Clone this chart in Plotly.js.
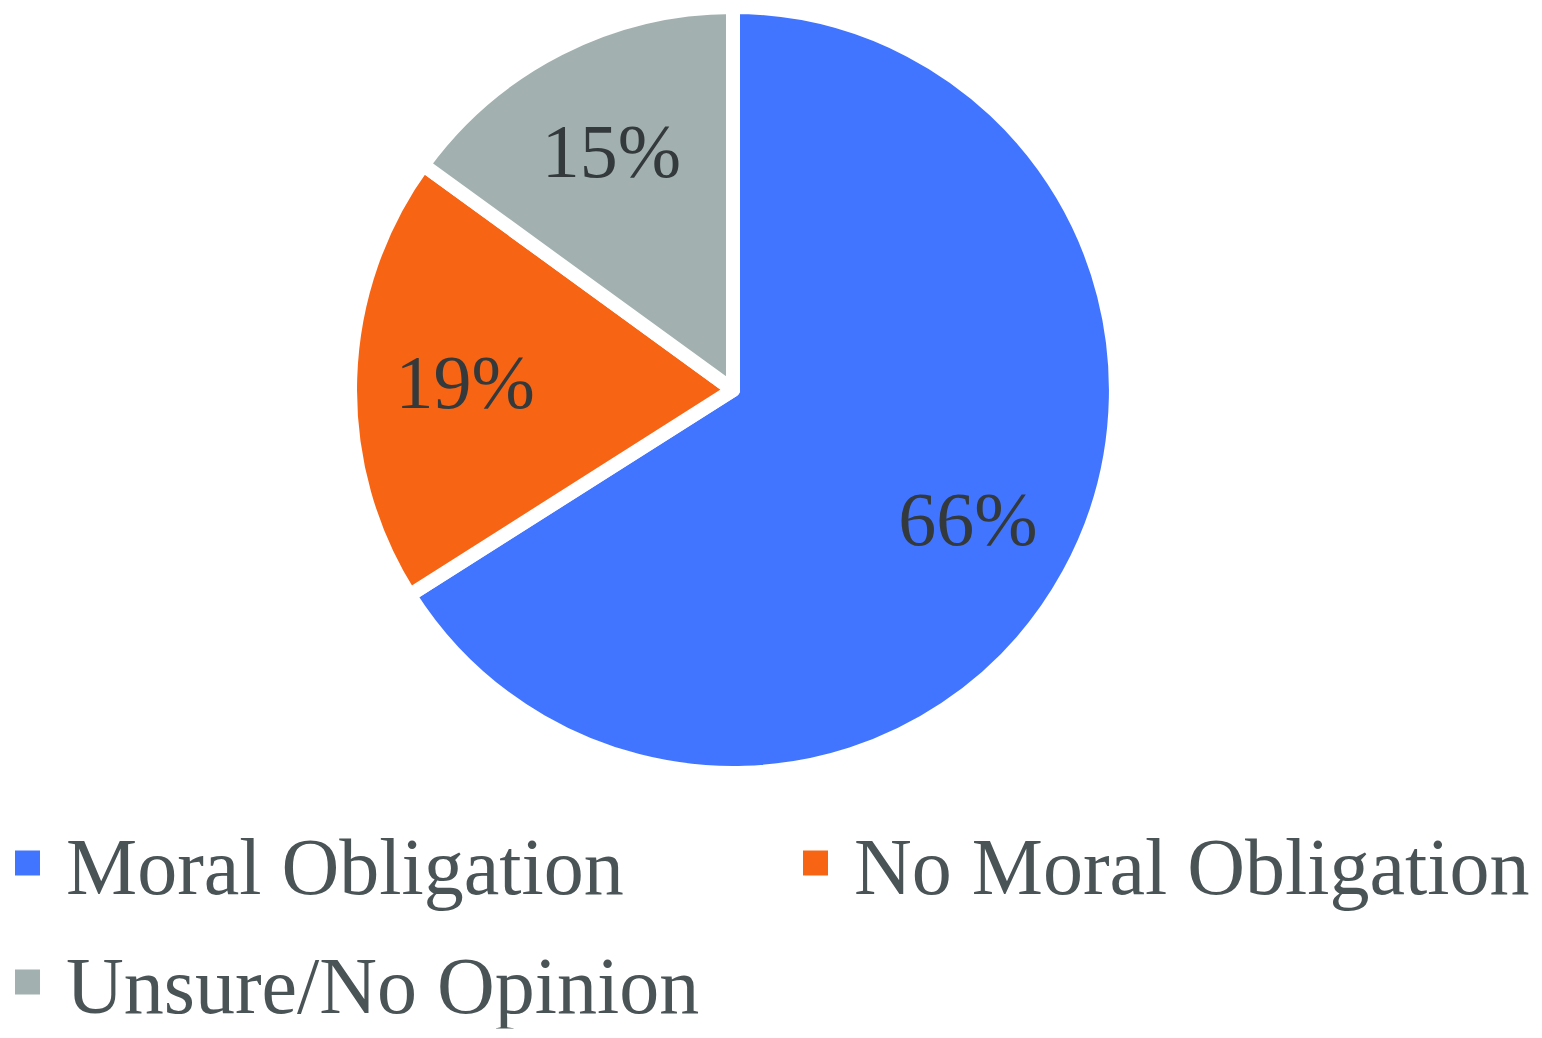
<!DOCTYPE html>
<html>
<head>
<meta charset="utf-8">
<script src="https://cdn.plot.ly/plotly-3.0.1.min.js"></script>
<style>html,body{margin:0;padding:0;background:#fff;}#chart{width:1542px;height:1038px;}</style>
</head>
<body>
<div id="chart"></div>
<script>
var labels = ["Moral Obligation", "No Moral Obligation", "Unsure/No Opinion"];
var values = [66, 19, 15];
var colors = ["#4275FF", "#F76414", "#A2B0AF"];

var trace = {
  type: "pie",
  labels: labels,
  values: values,
  sort: false,
  direction: "clockwise",
  rotation: 0,
  marker: {colors: colors, line: {color: "#FFFFFF", width: 14}},
  textinfo: "percent",
  textposition: "inside",
  insidetextorientation: "horizontal",
  textfont: {family: "Liberation Serif, Times New Roman, serif", size: 76, color: "#343A3C"},
  hoverinfo: "label+percent",
  domain: {x: [0.2270, 0.7237], y: [0.2553, 0.9933]}
};

var layout = {
  width: 1542,
  height: 1038,
  margin: {l: 0, r: 0, t: 0, b: 0, autoexpand: false},
  paper_bgcolor: "#FFFFFF",
  showlegend: true,
  legend: {
    orientation: "h",
    x: 0,
    xanchor: "left",
    y: 0.225,
    yanchor: "top",
    itemwidth: 56,
    entrywidth: 700,
    entrywidthmode: "pixels",
    font: {family: "Liberation Serif, Times New Roman, serif", size: 80, color: "#4A5456"}
  }
};

function shiftTransform(el, dx, dy) {
  var t = el.getAttribute("transform") || "";
  el.setAttribute("transform", "translate(" + dx + "," + dy + ") " + t);
}

Plotly.newPlot("chart", [trace], layout, {displayModeBar: false}).then(function (gd) {
  // legend symbols: larger squares like the reference
  gd.querySelectorAll("path.legendpie").forEach(function (p) {
    p.setAttribute("d", "M7,12.5H-18V-12.5H7Z");
    p.style.strokeWidth = "0px";
  });
  // legend entry spacing
  var items = gd.querySelectorAll("g.legend g.traces");
  if (items.length === 3) {
    shiftTransform(items[1], 17, 0);
    shiftTransform(items[2], 0, 12);
  }
  // slice labels at ~0.7 of the radius along each slice's mid-angle
  var cd = gd.calcdata[0];
  var cx = cd[0].cx, cy = cd[0].cy;
  var svgRect = gd.querySelector("svg.main-svg").getBoundingClientRect();
  var texts = gd.querySelectorAll("g.slice text.slicetext");
  texts.forEach(function (t, i) {
    var pt = cd[i];
    if (!pt || !pt.pxmid) return;
    var tx = cx + 0.70 * pt.pxmid[0];
    var ty = cy + 0.70 * pt.pxmid[1];
    var b = t.getBoundingClientRect();
    var bx = b.left + b.width / 2 - svgRect.left;
    var by = b.top + b.height / 2 - svgRect.top;
    shiftTransform(t, tx - bx, ty - by);
  });
});
</script>
</body>
</html>
